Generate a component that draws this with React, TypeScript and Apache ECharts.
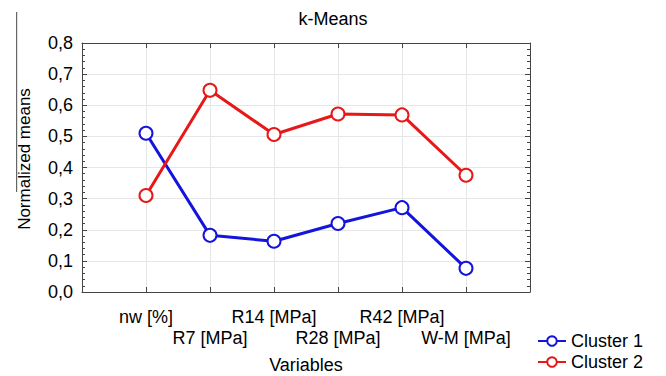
import React, { useEffect, useRef } from "react";
import * as echarts from "echarts";

const categories = ["nw [%]", "R7 [MPa]", "R14 [MPa]", "R28 [MPa]", "R42 [MPa]", "W-M [MPa]"];
const cluster1 = [0.51, 0.182, 0.163, 0.22, 0.271, 0.076];
const cluster2 = [0.31, 0.648, 0.506, 0.572, 0.569, 0.375];
const seriesNames = ["Cluster 1", "Cluster 2"];
const seriesColors = ["#1414dc", "#e81818"];

const FONT = "'Liberation Sans', Arial, sans-serif";

export default function App() {
  const ref = useRef<HTMLDivElement>(null);
  useEffect(() => {
    if (!ref.current) return;
    const chart = echarts.init(ref.current, null, { renderer: "svg" });
    const axisLine = { show: true, onZero: false, lineStyle: { color: "#444", width: 1 } };
    const tick = { show: true, inside: true, length: 5, lineStyle: { color: "#444" } };
    const minor = { show: true, splitNumber: 5, length: 3, lineStyle: { color: "#444" } };
    const mk = (vals: number[], k: number) => ({
      name: seriesNames[k],
      type: "line",
      xAxisIndex: 0,
      yAxisIndex: 0,
      data: vals.map((v, i) => [i + 1, v]),
      symbol: "emptyCircle",
      symbolSize: 13,
      color: seriesColors[k],
      lineStyle: { width: 3, color: seriesColors[k] },
      itemStyle: { color: seriesColors[k], borderWidth: 2.5, borderColor: seriesColors[k] },
      z: 3,
    });
    chart.setOption({
      animation: false,
      backgroundColor: "#fff",
      textStyle: { fontFamily: FONT },
      title: {
        text: "k-Means",
        left: "center",
        top: 10,
        padding: 0,
        textStyle: { fontFamily: FONT, fontSize: 18, fontWeight: "normal", color: "#000" },
      },
      legend: {
        orient: "vertical",
        left: 537,
        top: 332,
        itemWidth: 28,
        itemHeight: 12,
        itemGap: 3,
        padding: 0,
        data: seriesNames,
        textStyle: { fontFamily: FONT, fontSize: 18, color: "#000" },
      },
      grid: {
        left: 82,
        right: 136,
        top: 43,
        bottom: 84,
        containLabel: false,
        outerBoundsMode: "none",
      },
      xAxis: [
        {
          type: "value",
          min: 0,
          max: 7,
          interval: 1,
          position: "bottom",
          name: "Variables",
          nameLocation: "middle",
          nameGap: 64,
          nameTextStyle: { fontFamily: FONT, fontSize: 18, color: "#000" },
          axisLine,
          axisTick: tick,
          axisLabel: {
            fontFamily: FONT,
            fontSize: 18,
            color: "#000",
            margin: 14,
            lineHeight: 21,
            showMinLabel: true,
            showMaxLabel: true,
            formatter: (v: number) => {
              const i = Math.round(v) - 1;
              if (i < 0 || i >= categories.length) return "";
              return i % 2 === 0 ? categories[i] : "\n" + categories[i];
            },
          },
          splitLine: { show: true, lineStyle: { color: "#e6e6e6", width: 1 } },
        },
        {
          type: "value",
          min: 0,
          max: 7,
          interval: 1,
          position: "top",
          axisLine,
          axisTick: tick,
          axisLabel: { show: false },
          splitLine: { show: false },
        },
      ],
      yAxis: [
        {
          type: "value",
          min: 0,
          max: 0.8,
          interval: 0.1,
          position: "left",
          name: "Normalized means",
          nameLocation: "middle",
          nameGap: 49,
          nameTextStyle: { fontFamily: FONT, fontSize: 17, color: "#000", padding: [0, 0, 0, 17] },
          axisLine,
          axisTick: tick,
          minorTick: minor,
          axisLabel: {
            fontFamily: FONT,
            fontSize: 18,
            color: "#000",
            margin: 9,
            formatter: (v: number) => v.toFixed(1).replace(".", ","),
          },
          splitLine: { show: true, lineStyle: { color: "#e6e6e6", width: 1 } },
        },
        {
          type: "value",
          min: 0,
          max: 0.8,
          interval: 0.1,
          position: "right",
          axisLine,
          axisTick: tick,
          minorTick: minor,
          axisLabel: { show: false },
          splitLine: { show: false },
        },
      ],
      graphic: [
        {
          type: "rect",
          z: 100,
          shape: { x: 16, y: 12, width: 1.2, height: 180 },
          style: { fill: "#666" },
        },
      ],
      series: [mk(cluster1, 0), mk(cluster2, 1)],
    });
    return () => chart.dispose();
  }, []);
  return (
    <div
      ref={ref}
      style={{ position: "fixed", left: 0, top: 0, width: 666, height: 376, background: "#fff" }}
    />
  );
}
